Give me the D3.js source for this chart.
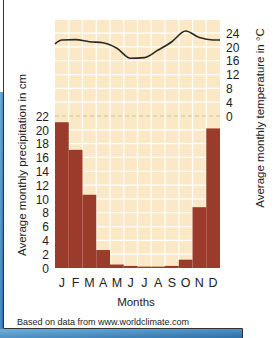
<!DOCTYPE html>
<html>
<head>
<meta charset="utf-8">
<script src="https://cdn.jsdelivr.net/npm/d3@7"></script>
<style>
  body { margin: 0; background: #fff; }
  svg text { font-family: "Liberation Sans", Arial, sans-serif; fill: #222; }
</style>
</head>
<body>
<svg id="chart" width="277" height="338"></svg>
<script>
// data
const months = ["J", "F", "M", "A", "M", "J", "J", "A", "S", "O", "N", "D"];
const precipitation = [21.1, 17.1, 10.6, 2.6, 0.5, 0.3, 0.2, 0.2, 0.3, 1.2, 8.8, 20.2];
const temperature = [22.0, 22.1, 21.5, 21.2, 19.6, 16.7, 16.9, 19.1, 21.5, 24.6, 22.7, 22.0];
const tempYearEnds = [20.9, 22.0]; // value at start of Jan and end of Dec
const precipTicks = [0, 2, 4, 6, 8, 10, 12, 14, 16, 18, 20, 22];
const tempTicks = [0, 4, 8, 12, 16, 20, 24];

const svg = d3.select("#chart");

// panel frame / background strip
const defs = svg.append("defs");
const grad = defs.append("linearGradient").attr("id", "bg").attr("x1", 0).attr("x2", 1).attr("y1", 0).attr("y2", 1);
grad.append("stop").attr("offset", "0%").attr("stop-color", "#6fb0dc");
grad.append("stop").attr("offset", "100%").attr("stop-color", "#2c6fa8");
svg.append("rect").attr("x", 0).attr("y", 92).attr("width", 3).attr("height", 246).attr("fill", "url(#bg)");
svg.append("rect").attr("x", 0).attr("y", 329).attr("width", 242).attr("height", 9).attr("fill", "url(#bg)");
svg.append("path").attr("d", "M3.5,0V328.5H242.5V338").attr("fill", "none").attr("stroke", "#333").attr("stroke-width", 1);

const plot = {left: 55, right: 220, top: 20};
const x = d3.scaleBand().domain(d3.range(12)).range([plot.left, plot.right]).padding(0);
const xPos = d3.scaleLinear().domain([0, 12]).range([plot.left, plot.right]);
const yP = d3.scaleLinear().domain([0, 22]).range([268, 116]);
const yT = d3.scaleLinear().domain([0, 4]).range([116, 116 - (yP(0) - yP(2))]);

// plot background
svg.append("rect")
  .attr("x", plot.left).attr("y", plot.top)
  .attr("width", plot.right - plot.left).attr("height", yP(0) - plot.top)
  .attr("fill", "#fbe8c6");

// grid
const grid = svg.append("g").attr("stroke", "#fff").attr("stroke-width", 1.2);
grid.selectAll(".v").data(d3.range(1, 12)).enter().append("line")
  .attr("x1", d => xPos(d)).attr("x2", d => xPos(d))
  .attr("y1", plot.top).attr("y2", yP(0));
grid.selectAll(".hp").data(precipTicks.filter(d => d > 0 && d < 22)).enter().append("line")
  .attr("x1", plot.left).attr("x2", plot.right)
  .attr("y1", d => yP(d)).attr("y2", d => yP(d));
grid.selectAll(".ht").data(tempTicks.filter(d => d > 0)).enter().append("line")
  .attr("x1", plot.left).attr("x2", plot.right)
  .attr("y1", d => yT(d)).attr("y2", d => yT(d));

// dashed divider (precip 22 / temp 0)
svg.append("line")
  .attr("x1", plot.left).attr("x2", plot.right)
  .attr("y1", yT(0)).attr("y2", yT(0))
  .attr("stroke", "#c9c48e").attr("stroke-width", 1.2)
  .attr("stroke-dasharray", "4,3");

// precipitation bars
svg.selectAll(".bar").data(precipitation).enter().append("rect")
  .attr("class", "bar")
  .attr("x", (d, i) => x(i))
  .attr("y", d => yP(d))
  .attr("width", x.bandwidth())
  .attr("height", d => yP(0) - yP(d))
  .attr("fill", "#9a3b2b");

// temperature line
const tempPts = [{p: 0, v: tempYearEnds[0]}]
  .concat(temperature.map((v, i) => ({p: i + 0.5, v: v})))
  .concat([{p: 12, v: tempYearEnds[1]}]);
svg.append("path")
  .datum(tempPts)
  .attr("fill", "none")
  .attr("stroke", "#2b2a22")
  .attr("stroke-width", 1.6)
  .attr("d", d3.line().x(d => xPos(d.p)).y(d => yT(d.v)).curve(d3.curveMonotoneX));

// left axis
const leftAxis = svg.append("g").attr("transform", "translate(49,0)")
  .call(d3.axisLeft(yP).tickValues(precipTicks).tickFormat(d3.format("d")).tickSize(0).tickPadding(0));
leftAxis.select(".domain").remove();
leftAxis.selectAll("text").style("font-size", "12px").attr("dy", "0.35em")
  .style("font-family", "'Liberation Sans', Arial, sans-serif").attr("fill", "#222");

// right axis
const rightAxis = svg.append("g").attr("transform", "translate(226,0)")
  .call(d3.axisRight(yT).tickValues(tempTicks).tickFormat(d3.format("d")).tickSize(0).tickPadding(0));
rightAxis.select(".domain").remove();
rightAxis.selectAll("text").style("font-size", "12px").attr("dy", "0.35em")
  .style("font-family", "'Liberation Sans', Arial, sans-serif").attr("fill", "#222");

// month labels
svg.selectAll(".month").data(months).enter().append("text")
  .attr("x", (d, i) => x(i) + x.bandwidth() / 2)
  .attr("y", 287)
  .attr("text-anchor", "middle")
  .style("font-size", "12.5px")
  .text(d => d);

svg.append("text").attr("x", 136).attr("y", 306).attr("text-anchor", "middle")
  .style("font-size", "11.5px").text("Months");

svg.append("text")
  .attr("transform", "translate(26,165) rotate(-90)")
  .attr("text-anchor", "middle")
  .style("font-size", "11.5px")
  .text("Average monthly precipitation in cm");

svg.append("text")
  .attr("transform", "translate(264,118) rotate(-90)")
  .attr("text-anchor", "middle")
  .style("font-size", "11.5px")
  .text("Average monthly temperature in °C");

svg.append("text").attr("x", 17).attr("y", 325)
  .style("font-size", "9px").text("Based on data from www.worldclimate.com");
</script>
</body>
</html>
